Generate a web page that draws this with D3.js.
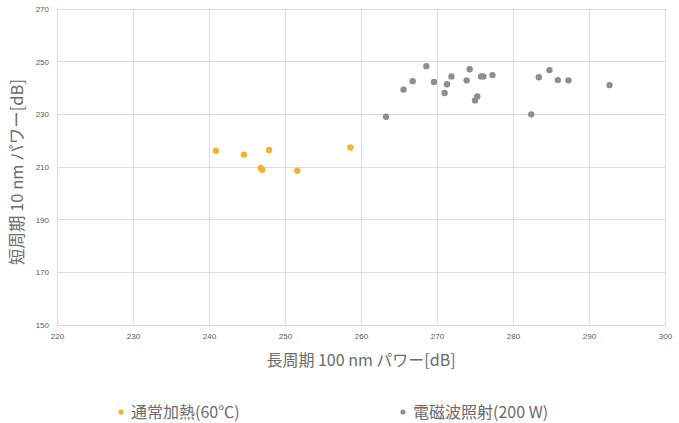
<!DOCTYPE html>
<html><head><meta charset="utf-8">
<script src="https://cdn.jsdelivr.net/npm/d3@7"></script>
<style>body{margin:0;background:#fff;} svg{display:block;font-family:"Noto Sans CJK JP","Noto Sans",sans-serif;}</style>
</head><body>
<svg id="c" width="679" height="423"></svg>
<script>
const series1Name = "通常加熱(60℃)";
const series1X = [240.9, 244.6, 246.8, 247.0, 247.9, 251.6, 258.6];
const series1Y = [216.2, 214.7, 209.6, 209.0, 216.5, 208.6, 217.4];
const series2Name = "電磁波照射(200 W)";
const series2X = [263.3, 265.6, 266.8, 268.6, 269.6, 271.0, 271.3, 271.9, 273.9, 274.3, 275.0, 275.3, 275.8, 276.1, 277.3, 282.4, 283.4, 284.8, 285.9, 287.3, 292.7];
const series2Y = [229.1, 239.4, 242.6, 248.3, 242.3, 238.1, 241.4, 244.4, 242.9, 247.1, 235.3, 236.8, 244.4, 244.4, 244.9, 230.0, 244.1, 246.8, 243.0, 242.9, 241.1];
const xTicks = [220, 230, 240, 250, 260, 270, 280, 290, 300];
const yTicks = [150, 170, 190, 210, 230, 250, 270];
const xTitle = "長周期 100 nm パワー[dB]";
const yTitle = "短周期 10 nm パワー[dB]";

const svg = d3.select("#c");
const L = 57, R = 665, T = 9, B = 325;
const x = d3.scaleLinear().domain([220, 300]).range([L, R]);
const y = d3.scaleLinear().domain([150, 270]).range([B, T]);
const grid = "#d9dde3", txt = "#595959", ttl = "#6b6b6b";

svg.append("g").selectAll("line").data(yTicks).join("line")
  .attr("x1", L).attr("x2", R).attr("y1", d => y(d)).attr("y2", d => y(d))
  .attr("stroke", grid).attr("stroke-width", 1).attr("shape-rendering", "crispEdges");
svg.append("g").selectAll("line").data(xTicks).join("line")
  .attr("y1", T).attr("y2", B).attr("x1", d => x(d)).attr("x2", d => x(d))
  .attr("stroke", grid).attr("stroke-width", 1).attr("shape-rendering", "crispEdges");

const yAxis = d3.axisLeft(y).tickValues(yTicks).tickSize(0).tickPadding(8);
const gy = svg.append("g").attr("transform", `translate(${L},0)`).call(yAxis);
gy.select(".domain").attr("stroke", grid);
gy.selectAll("text").attr("fill", txt).attr("font-size", 8);

const xAxis = d3.axisBottom(x).tickValues(xTicks).tickSize(0).tickPadding(8);
const gx = svg.append("g").attr("transform", `translate(0,${B})`).call(xAxis);
gx.select(".domain").attr("stroke", grid);
gx.selectAll("text").attr("fill", txt).attr("font-size", 8);

svg.append("text").attr("x", 361).attr("y", 366).attr("text-anchor", "middle")
  .attr("fill", ttl).attr("font-size", 16).text(xTitle);
svg.append("text").attr("transform", `translate(23,172) rotate(-90)`)
  .attr("text-anchor", "middle").attr("fill", ttl).attr("font-size", 16.5).text(yTitle);

const c1 = "#f2b233", c2 = "#8e8e8e";
svg.append("g").selectAll("circle").data(series1X.map((v, i) => [v, series1Y[i]])).join("circle")
  .attr("cx", d => x(d[0])).attr("cy", d => y(d[1])).attr("r", 3.2).attr("fill", c1);
svg.append("g").selectAll("circle").data(series2X.map((v, i) => [v, series2Y[i]])).join("circle")
  .attr("cx", d => x(d[0])).attr("cy", d => y(d[1])).attr("r", 3.2).attr("fill", c2);

const leg = [[series1Name, c1, 121], [series2Name, c2, 403]];
leg.forEach(([n, c, lx]) => {
  svg.append("circle").attr("cx", lx).attr("cy", 412).attr("r", 2.6).attr("fill", c);
  svg.append("text").attr("x", lx + 10).attr("y", 418).attr("fill", ttl).attr("font-size", 16).text(n);
});
</script>
</body></html>
